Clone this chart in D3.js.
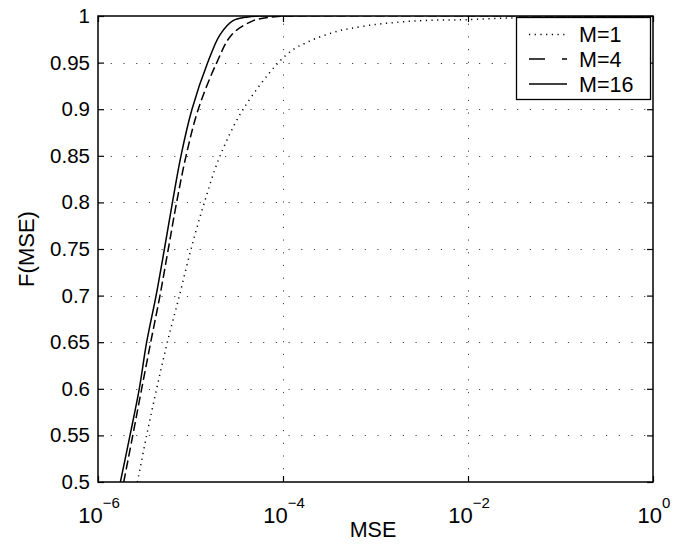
<!DOCTYPE html>
<html>
<head>
<meta charset="utf-8">
<script src="https://cdn.jsdelivr.net/npm/d3@7"></script>
<style>
  body { margin: 0; background: #fff; }
  text { font-family: "Liberation Sans", Arial, sans-serif; fill: #000; }
</style>
</head>
<body>
<svg id="chart" width="673" height="546"></svg>
<script>
/** Series: MSE (x) and F(MSE) (y) for each M */
var mseM1 = [2.667e-6, 3.357e-6, 4.305e-6, 5.623e-6, 7.586e-6, 1.014e-5, 1.413e-5, 2.089e-5,
             3.715e-5, 8.913e-5, 1.318e-4, 1.730e-4, 2.218e-4, 3.020e-4, 4.055e-4, 5.445e-4,
             9.462e-4, 1.667e-3, 3.020e-3, 5.200e-3, 9.290e-3, 3.162e-2, 0.1, 0.3162, 1];
var fM1 = [0.5, 0.55, 0.6, 0.65, 0.7, 0.75, 0.8, 0.85,
           0.9, 0.95, 0.9646, 0.9707, 0.9756, 0.9803, 0.9842, 0.9868,
           0.9906, 0.9932, 0.995, 0.9957, 0.996, 0.998, 0.999, 1, 1];

var mseM4 = [1.897e-6, 2.377e-6, 2.965e-6, 3.715e-6, 4.677e-6, 5.754e-6, 7.079e-6, 8.954e-6,
             1.213e-5, 1.923e-5, 2.793e-5, 4.786e-5, 8.710e-5, 1.122e-4, 1];
var fM4 = [0.5, 0.55, 0.6, 0.65, 0.7, 0.75, 0.8, 0.85,
           0.9, 0.95, 0.98, 0.995, 0.9995, 1, 1];

var mseM16 = [1.746e-6, 2.218e-6, 2.793e-6, 3.357e-6, 4.246e-6, 5.224e-6, 6.38e-6, 7.89e-6,
              1.038e-5, 1.535e-5, 2.089e-5, 2.884e-5, 4.169e-5, 5.623e-5, 1];
var fM16 = [0.5, 0.55, 0.6, 0.65, 0.7, 0.75, 0.8, 0.85,
            0.9, 0.95, 0.98, 0.995, 0.999, 1, 1];

var seriesNames = ['M=1', 'M=4', 'M=16'];
var xTickExps = [-6, -4, -2, 0];
var yTicks = [0.5, 0.55, 0.6, 0.65, 0.7, 0.75, 0.8, 0.85, 0.9, 0.95, 1];

/** Plot box */
var boxLeft = 98, boxRight = 653, boxTop = 16, boxBottom = 482;

var svg = d3.select('#chart');

var x = d3.scaleLog().domain([1e-6, 1]).range([boxLeft, boxRight]);
var y = d3.scaleLinear().domain([0.5, 1]).range([boxBottom, boxTop]);

var yFmt = function(d) { return d === 1 ? '1' : String(d); };

// grid lines (dotted)
var grid = svg.append('g').attr('stroke', '#444').attr('stroke-width', 1)
    .attr('stroke-dasharray', '1.2,11.5');
grid.selectAll('line.gx')
    .data(xTickExps.slice(1, 3))
    .enter().append('line')
    .attr('x1', function(e) { return Math.round(x(Math.pow(10, e))) + 0.5; })
    .attr('x2', function(e) { return Math.round(x(Math.pow(10, e))) + 0.5; })
    .attr('y1', boxBottom).attr('y2', boxTop);
grid.selectAll('line.gy')
    .data(yTicks.slice(1, -1))
    .enter().append('line')
    .attr('y1', function(d) { return Math.round(y(d)) + 0.5; })
    .attr('y2', function(d) { return Math.round(y(d)) + 0.5; })
    .attr('x1', boxLeft).attr('x2', boxRight);

// curves
svg.append('clipPath').attr('id', 'plotClip')
    .append('rect').attr('x', boxLeft).attr('y', boxTop)
    .attr('width', boxRight - boxLeft).attr('height', boxBottom - boxTop);

var line = d3.line()
    .x(function(d) { return x(d[0]); })
    .y(function(d) { return y(d[1]); })
    .curve(d3.curveCatmullRom.alpha(0.5));

var series = [
    { name: seriesNames[0], pts: d3.zip(mseM1, fM1), dash: '1.2,4.5' },
    { name: seriesNames[1], pts: d3.zip(mseM4, fM4), dash: '9,4' },
    { name: seriesNames[2], pts: d3.zip(mseM16, fM16), dash: null }
];

svg.append('g').attr('clip-path', 'url(#plotClip)')
    .selectAll('path')
    .data(series)
    .enter().append('path')
    .attr('d', function(d) { return line(d.pts); })
    .attr('fill', 'none')
    .attr('stroke', '#000')
    .attr('stroke-width', 1.5)
    .attr('stroke-dasharray', function(d) { return d.dash; });

// axes box
svg.append('rect')
    .attr('x', boxLeft).attr('y', boxTop)
    .attr('width', boxRight - boxLeft).attr('height', boxBottom - boxTop)
    .attr('fill', 'none').attr('stroke', '#000').attr('stroke-width', 1.5);

// ticks, pointing inward on all four sides
var xTickVals = xTickExps.map(function(e) { return Math.pow(10, e); });
var xAxis = d3.axisBottom(x).tickValues(xTickVals)
    .tickSizeInner(-6).tickSizeOuter(0).tickFormat('');
var xAxisTop = d3.axisTop(x).tickValues(xTickVals)
    .tickSizeInner(-6).tickSizeOuter(0).tickFormat('');
var yAxis = d3.axisLeft(y).tickValues(yTicks)
    .tickSizeInner(-6).tickSizeOuter(0).tickPadding(8).tickFormat(yFmt);
var yAxisRight = d3.axisRight(y).tickValues(yTicks)
    .tickSizeInner(-6).tickSizeOuter(0).tickFormat('');

svg.append('g').attr('transform', 'translate(0,' + boxBottom + ')').call(xAxis);
svg.append('g').attr('transform', 'translate(0,' + boxTop + ')').call(xAxisTop);
var gy = svg.append('g').attr('transform', 'translate(' + boxLeft + ',0)').call(yAxis);
svg.append('g').attr('transform', 'translate(' + boxRight + ',0)').call(yAxisRight);

svg.selectAll('.domain').remove();
svg.selectAll('.tick line').attr('stroke', '#000').attr('stroke-width', 1.2);
gy.selectAll('.tick text').style('font-size', '20.5px')
    .style('font-family', '"Liberation Sans", Arial, sans-serif');

// x tick labels as 10^e
var xLab = svg.append('g').selectAll('text')
    .data(xTickExps)
    .enter().append('text')
    .attr('x', function(e) { return x(Math.pow(10, e)) + 1; })
    .attr('y', 522.5)
    .attr('text-anchor', 'middle');
xLab.append('tspan').style('font-size', '22px').text('10');
xLab.append('tspan').style('font-size', '15px').attr('dy', -15)
    .text(function(e) { return e < 0 ? '\u2212' + (-e) : String(e); });

// axis labels
svg.append('text')
    .attr('x', 373).attr('y', 537)
    .attr('text-anchor', 'middle')
    .style('font-size', '21.5px')
    .text('MSE');

svg.append('text')
    .attr('transform', 'translate(33.5,249) rotate(-90)')
    .attr('text-anchor', 'middle')
    .style('font-size', '22px')
    .text('F(MSE)');

// legend
var lg = svg.append('g');
lg.append('rect')
    .attr('x', 516.5).attr('y', 17.5).attr('width', 134).attr('height', 82)
    .attr('fill', '#fff').attr('stroke', '#000').attr('stroke-width', 1.3);

var rowY = [34.5, 59, 84];
var items = lg.selectAll('g.item')
    .data(series)
    .enter().append('g')
    .attr('transform', function(d, i) { return 'translate(0,' + rowY[i] + ')'; });
items.append('line')
    .attr('x1', 529).attr('x2', 567).attr('y1', 0).attr('y2', 0)
    .attr('stroke', '#000').attr('stroke-width', 1.5)
    .attr('stroke-dasharray', function(d) { return d.name === 'M=4' ? '16,17,5' : d.dash; });
items.append('text')
    .attr('x', 579).attr('y', 7.5)
    .style('font-size', '21.5px')
    .text(function(d) { return d.name; });
</script>
</body>
</html>
